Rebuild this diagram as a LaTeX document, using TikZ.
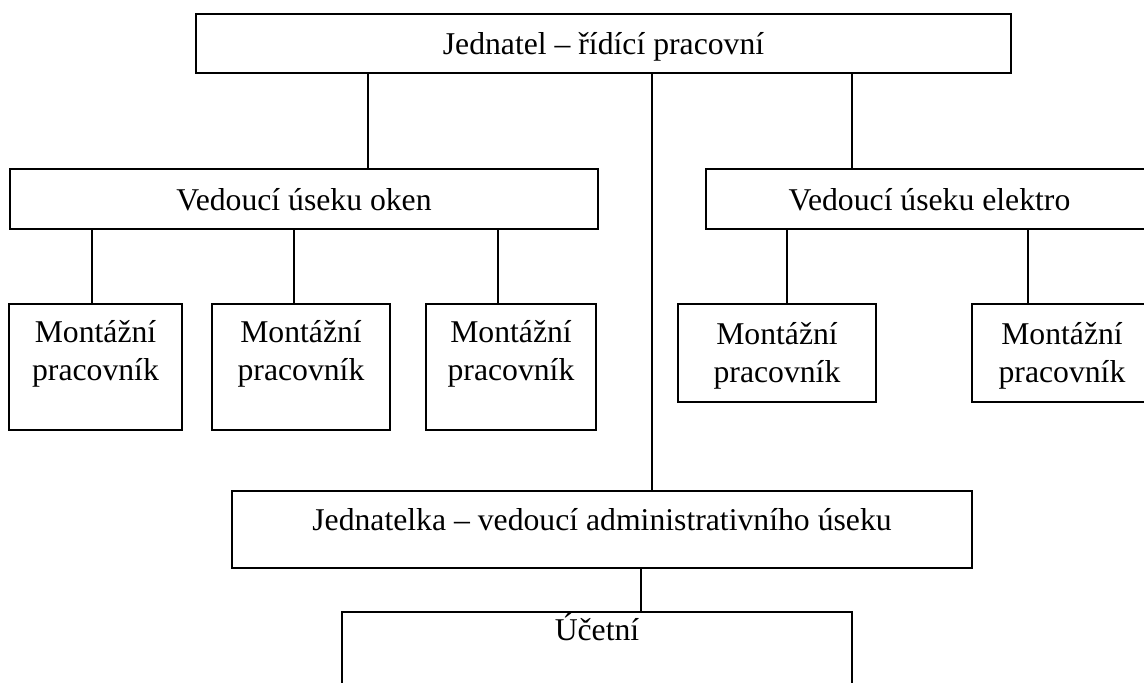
\documentclass[tikz,border=0pt]{standalone}
\usepackage{fontspec}
\setmainfont{Liberation Serif}
\usepackage{tikz}
\tikzstyle{box}=[draw, rectangle, line width=1.5pt, inner sep=0pt, align=center, text height=22pt, text depth=0pt]
\tikzstyle{link}=[line width=1.2pt]

\begin{document}
\begin{tikzpicture}[x=1pt,y=-1pt,font=\fontsize{31.7}{38}\selectfont]
    \path[use as bounding box,clip] (0,0) rectangle (1144,683);
    % boxes
    \node[box,minimum width=815pt,minimum height=59pt] (jednatel) at (603.5,43.5) {Jednatel – řídící pracovní};
    \node[box,minimum width=588pt,minimum height=60pt] (okno) at (304,199) {Vedoucí úseku oken};
    \node[box,minimum width=447pt,minimum height=60pt] (elektro) at (929.5,199) {Vedoucí úseku elektro};
    \node[box,minimum width=173pt,minimum height=126pt,text height=26pt] (m1) at (95.5,367) {Montážní\\pracovník};
    \node[box,minimum width=178pt,minimum height=126pt,text height=26pt] (m2) at (301,367) {Montážní\\pracovník};
    \node[box,minimum width=170pt,minimum height=126pt,text height=26pt] (m3) at (511,367) {Montážní\\pracovník};
    \node[box,minimum width=198pt,minimum height=98pt,text height=58pt] (m4) at (777,353) {Montážní\\pracovník};
    \node[box,minimum width=180pt,minimum height=98pt,text height=58pt] (m5) at (1062,353) {Montážní\\pracovník};
    \node[box,minimum width=740pt,minimum height=77pt,text depth=21pt] (admin) at (602,529.5) {Jednatelka – vedoucí administrativního úseku};
    \node[box,minimum width=510pt,minimum height=88pt,text depth=54pt] (ucetni) at (597,656) {Účetní};
    % drop points of the lines
    \coordinate (dOkno) at (368,0);
    \coordinate (dAdmin) at (652,0);
    \coordinate (dElektro) at (852,0);
    \coordinate (dA) at (92,0);
    \coordinate (dB) at (294,0);
    \coordinate (dC) at (498,0);
    \coordinate (dD) at (787,0);
    \coordinate (dE) at (1028,0);
    \coordinate (dUcet) at (641,0);
    % lines
    \draw[link] (jednatel.south -| dOkno) -- (okno.north -| dOkno);
    \draw[link] (jednatel.south -| dAdmin) -- (admin.north -| dAdmin);
    \draw[link] (jednatel.south -| dElektro) -- (elektro.north -| dElektro);
    \foreach \m/\d in {m1/dA,m2/dB,m3/dC}
        \draw[link] (okno.south -| \d) -- (\m.north -| \d);
    \foreach \m/\d in {m4/dD,m5/dE}
        \draw[link] (elektro.south -| \d) -- (\m.north -| \d);
    \draw[link] (admin.south -| dUcet) -- (ucetni.north -| dUcet);
\end{tikzpicture}
\end{document}
